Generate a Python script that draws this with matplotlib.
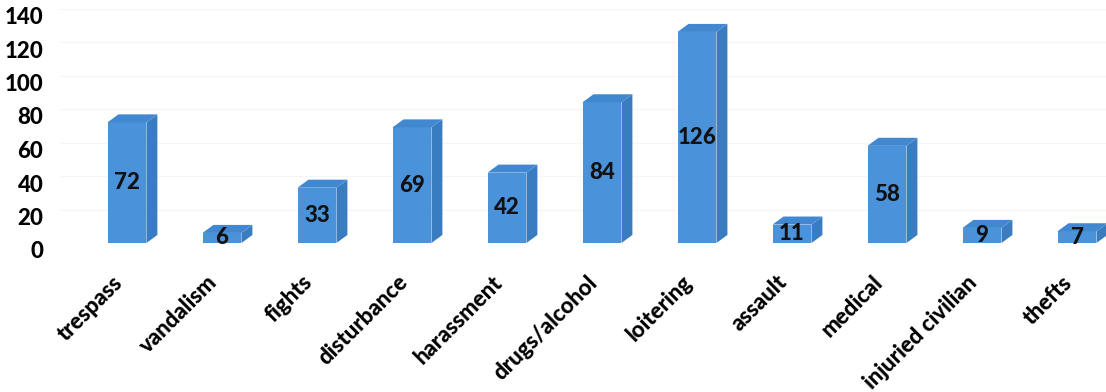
"""Incident counts by category, drawn as pseudo-3D columns."""

import matplotlib

matplotlib.use("Agg")

import matplotlib.pyplot as plt
from matplotlib.patches import Polygon
from matplotlib.transforms import ScaledTranslation

categories = [
    "trespass", "vandalism", "fights", "disturbance", "harassment",
    "drugs/alcohol", "loitering", "assault", "medical", "injuried civilian",
    "thefts",
]
counts = [72, 6, 33, 69, 42, 84, 126, 11, 58, 9, 7]
y_ticks = [0, 20, 40, 60, 80, 100, 120, 140]

COLOR_FRONT = "#4a93db"
COLOR_SIDE = "#3a7cc0"
COLOR_TOP = "#4288d0"
BAR_WIDTH = 0.41
DEPTH_X = 0.115
DEPTH_Y = 4.8
FONT = ["Lato", "DejaVu Sans"]

plt.rcParams["font.family"] = FONT

fig = plt.figure(figsize=(11.06, 3.92), dpi=100)
ax = fig.add_axes([60 / 1106, 149 / 392, 1046 / 1106, 234.5 / 392])

x = list(range(len(categories)))
ax.bar(x, counts, width=BAR_WIDTH, color=COLOR_FRONT, zorder=3)

# side and top faces give the columns their depth
for xi, v in zip(x, counts):
    left = xi - BAR_WIDTH / 2
    right = xi + BAR_WIDTH / 2
    side = [(right, 0), (right + DEPTH_X, DEPTH_Y),
            (right + DEPTH_X, v + DEPTH_Y), (right, v)]
    top = [(left, v), (right, v), (right + DEPTH_X, v + DEPTH_Y),
           (left + DEPTH_X, v + DEPTH_Y)]
    ax.add_patch(Polygon(side, closed=True, color=COLOR_SIDE, zorder=3, lw=0))
    ax.add_patch(Polygon(top, closed=True, color=COLOR_TOP, zorder=3, lw=0))
    ax.text(xi, v / 2, str(v), ha="center", va="center", fontsize=16,
            fontweight="black", color="#111111", zorder=4)

ax.set_xlim(-0.705, 10.305)
ax.set_ylim(0, 140)
ax.set_yticks(y_ticks)
ax.set_yticklabels([str(t) for t in y_ticks], fontsize=16, fontweight="black")
ax.set_xticks(x)
ax.set_xticklabels(categories, rotation=45, ha="right", va="center",
                   rotation_mode="anchor", fontsize=16, fontweight="black")
ax.tick_params(axis="both", length=0)
ax.tick_params(axis="x", pad=26)
ax.tick_params(axis="y", pad=12)

y_offset = ScaledTranslation(0, -7 / 100, fig.dpi_scale_trans)
for label in ax.get_yticklabels():
    label.set_transform(label.get_transform() + y_offset)
x_offset = ScaledTranslation(-8 / 100, 0, fig.dpi_scale_trans)
for label in ax.get_xticklabels():
    label.set_transform(label.get_transform() + x_offset)

ax.grid(axis="y", color="#f5f5f5", lw=0.8, zorder=0)
for spine in ax.spines.values():
    spine.set_visible(False)

fig.savefig("out.png", dpi=100)
